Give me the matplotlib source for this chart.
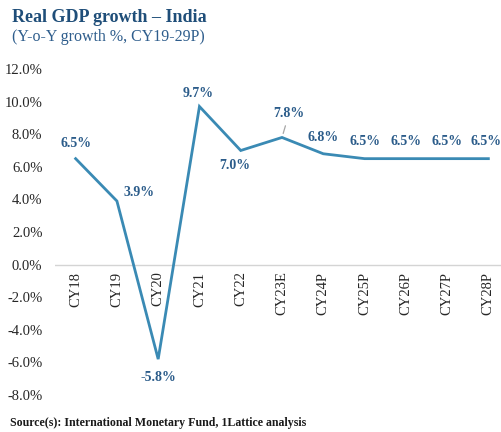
import matplotlib
matplotlib.use("Agg")
import matplotlib.pyplot as plt

categories = ["CY18", "CY19", "CY20", "CY21", "CY22", "CY23E",
              "CY24P", "CY25P", "CY26P", "CY27P", "CY28P"]
growth = [6.5, 3.9, -5.8, 9.7, 7.0, 7.8, 6.8, 6.5, 6.5, 6.5, 6.5]
y_ticks = [12, 10, 8, 6, 4, 2, 0, -2, -4, -6, -8]

# label offsets in points (dx, dy) relative to each data point
label_offsets = [(0, 11), (16, 6), (0, -13), (-1, 9), (-4, -11), (5, 17),
                 (0, 12), (0, 12), (0, 12), (0, 12), (-2, 12)]

SERIF = ["Liberation Serif", "DejaVu Serif"]
LINE_C = "#3a8ab4"
LABEL_C = "#2b5c8a"
TITLE_C = "#1f4e79"

fig = plt.figure(figsize=(5.02, 4.32), dpi=100)
ax = fig.add_axes([55 / 502, 37 / 432, 454 / 502, 326 / 432])

x = list(range(len(categories)))
ax.plot(x, growth, color=LINE_C, lw=2.0, solid_joinstyle="miter", zorder=3)
ax.axhline(0, color="#d4d4d4", lw=1.0, zorder=1)

ax.set_xlim(-0.5, len(categories) - 0.5)
ax.set_ylim(-8, 12)
ax.set_yticks(y_ticks)
ax.set_yticklabels([f"{v:.1f}%" for v in y_ticks], family=SERIF,
                   fontsize=10.5, color="#262626")
ax.tick_params(axis="y", length=0, pad=9)
ax.set_xticks([])
for s in ax.spines.values():
    s.set_visible(False)

# category labels hang under the zero line
for i, c in enumerate(categories):
    ax.annotate(c, (i, 0), xytext=(0, -5), textcoords="offset points",
                rotation=90, ha="center", va="top", family=SERIF,
                fontsize=10.5, color="#262626")

# value labels
for i, (v, (dx, dy)) in enumerate(zip(growth, label_offsets)):
    kw = {}
    if categories[i] == "CY23E":
        kw["arrowprops"] = dict(arrowstyle="-", color="#a6a6a6", lw=0.9,
                                shrinkA=2, shrinkB=3)
    ax.annotate(f"{v:.1f}%", (i, v), xytext=(dx, dy),
                textcoords="offset points", ha="center", va="center",
                family=SERIF, fontsize=10, fontweight="bold", color=LABEL_C,
                **kw)

fig.text(12 / 502, 1 - 17 / 432, "Real GDP growth \u2013 India", family=SERIF,
         fontsize=13, fontweight="bold", color=TITLE_C, va="center")
fig.text(12 / 502, 1 - 37 / 432, "(Y-o-Y growth %, CY19-29P)", family=SERIF,
         fontsize=11.5, color="#2e5d8c", va="center")
fig.text(10 / 502, 1 - 423 / 432,
         "Source(s): International Monetary Fund, 1Lattice analysis",
         family=SERIF, fontsize=8.6, fontweight="bold", color="#1a1a1a",
         va="center")

fig.savefig("out.png", dpi=100)
